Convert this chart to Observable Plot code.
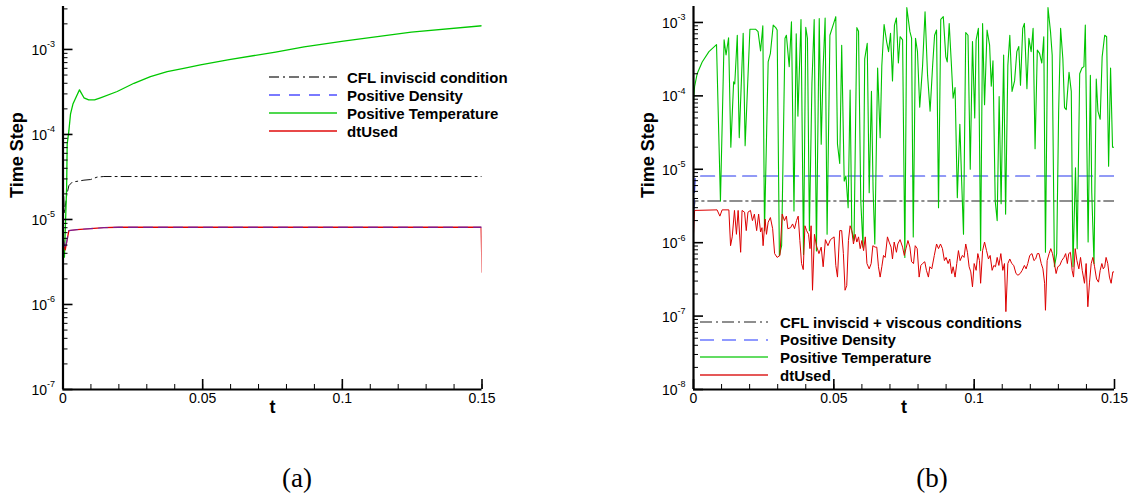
<!DOCTYPE html>
<html><head><meta charset="utf-8">
<script src="https://cdn.jsdelivr.net/npm/d3@7"></script>
<script src="https://cdn.jsdelivr.net/npm/@observablehq/plot@0.6"></script>
<style>
body{margin:0;background:#fff;}
#wrap{position:relative;width:1129px;height:496px;overflow:hidden;background:#fff;font-family:"Liberation Sans",Arial,sans-serif;}
.panel{position:absolute;top:0;}
.lrow{position:absolute;height:20px;display:flex;align-items:center;white-space:nowrap;font-weight:bold;font-size:15px;color:#000;}
.caption{position:absolute;font-family:"Liberation Serif","DejaVu Serif",serif;font-size:27px;transform:translate(-50%,-50%);}
</style></head><body><div id="wrap"></div>
<script>
// ---------- data: panel (a) ----------
const tempA = [[0,5.0e-6],[0.0005,3.6e-6],[0.0013,2.4e-5],[0.0015,7.7e-5],[0.0021,1.1e-4],[0.0027,1.75e-4],[0.0036,2.3e-4],[0.0059,3.35e-4],[0.0075,2.7e-4],[0.0092,2.55e-4],[0.0113,2.55e-4],[0.0134,2.7e-4],[0.0194,3.2e-4],[0.0254,4.0e-4],[0.0313,4.8e-4],[0.0373,5.5e-4],[0.0432,6.0e-4],[0.0492,6.6e-4],[0.0595,7.6e-4],[0.0761,9.3e-4],[0.0863,1.07e-3],[0.1004,1.25e-3],[0.1247,1.6e-3],[0.15,1.9e-3]];
const cflA = [[0,3.2e-5],[0.0005,1.17e-5],[0.0013,1.9e-5],[0.0021,2.5e-5],[0.0033,2.75e-5],[0.0075,2.9e-5],[0.0099,2.95e-5],[0.0122,3.15e-5],[0.0146,3.2e-5],[0.15,3.2e-5]];
const densA = [[0,6.1e-6],[0.0008,4.5e-6],[0.0021,7.4e-6],[0.005,7.6e-6],[0.0099,7.8e-6],[0.0146,8.0e-6],[0.02,8.1e-6],[0.15,8.1e-6]];
const dtA = [[0,6.1e-6],[0.0008,4.4e-6],[0.0021,7.4e-6],[0.005,7.6e-6],[0.0099,7.8e-6],[0.0146,8.0e-6],[0.02,8.1e-6],[0.1497,8.1e-6],[0.15,2.4e-6]];

// ---------- data: panel (b) ----------
const cflB = [[0,2.8e-6],[0.0005,3.7e-6],[0.15,3.7e-6]];
const densB = [[0,2.5e-6],[0.0006,7.7e-6],[0.0012,8.1e-6],[0.15,8.1e-6]];
const tempB = [[0,8.5e-5],[0.0004,1.35e-4],[0.0013,2.0e-4],[0.0031,2.9e-4],[0.0055,4.0e-4],[0.0082,5.0e-4],[0.0096,3.7e-6],[0.0109,5.8e-4],[0.0116,3.6e-4],[0.0125,6.2e-4],[0.0133,2.0e-5],[0.0143,1.55e-4],[0.0147,1.45e-4],[0.0156,6.7e-4],[0.0163,2.7e-5],[0.0177,7.1e-4],[0.0184,2.1e-5],[0.0201,8.1e-4],[0.0221,8.1e-4],[0.0230,7.5e-4],[0.0239,4.1e-4],[0.0247,9.0e-4],[0.0253,1.46e-6],[0.0266,2.9e-4],[0.0274,3.8e-4],[0.0284,9.2e-4],[0.0293,8.5e-4],[0.0298,7.9e-4],[0.0306,6.7e-7],[0.0314,9.1e-7],[0.0326,6.1e-4],[0.0331,6.7e-4],[0.0341,2.5e-4],[0.0349,1.02e-3],[0.0358,2.7e-6],[0.0366,7.0e-4],[0.0372,5.3e-5],[0.0383,1.1e-3],[0.0392,6.9e-7],[0.0400,8.6e-4],[0.0406,6.1e-4],[0.0413,1.46e-6],[0.0422,1.5e-4],[0.0430,1.1e-3],[0.0438,7.7e-7],[0.0448,1.13e-3],[0.0455,2.2e-5],[0.0462,2.5e-4],[0.0469,1.15e-3],[0.0476,1.3e-6],[0.0486,6.7e-4],
[0.0507,1.2e-3],[0.0513,2.2e-5],[0.0521,1.2e-5],[0.0528,4.9e-4],[0.0537,6.9e-6],[0.0543,8.1e-6],[0.0551,3.0e-6],[0.0558,1.2e-4],[0.0564,1.46e-6],[0.0572,1.07e-6],[0.0582,8.5e-4],[0.0588,7.6e-4],[0.0596,3.7e-6],[0.0604,8.7e-7],[0.0610,3.2e-4],[0.0619,5.2e-4],[0.0626,4.8e-6],[0.0634,1.15e-4],[0.0640,5.1e-6],[0.0646,9.6e-7],[0.0656,2.4e-4],[0.0665,2.7e-5],[0.0671,2.6e-4],[0.0679,9.4e-4],[0.0688,5.5e-4],[0.0695,4.0e-4],[0.0702,7.1e-4],[0.0709,1.6e-4],[0.0716,9.2e-4],[0.0723,1.15e-3],[0.0730,2.8e-4],[0.0736,6.4e-4],[0.0745,5.8e-4],[0.0753,6.3e-7],[0.0760,1.6e-3],[0.0771,7.5e-4],[0.0777,6.1e-4],[0.0783,1.2e-6],[0.0791,6.1e-4],[0.0798,4.0e-4],[0.0806,7.0e-5],[0.0816,2.5e-4],[0.0825,1.4e-3],[0.0834,1.9e-4],[0.0843,6.2e-5],[0.0852,2.6e-4],[0.0859,6.7e-4],[0.0866,7.9e-4],[0.0873,3.0e-6],[0.0881,1.1e-3],[0.0890,1.2e-3],[0.0899,3.4e-4],[0.0904,2.9e-4],[0.0911,9.7e-4],[0.0918,3.1e-4],[0.0925,9.3e-5],[0.0932,1.3e-4],[0.0940,4.1e-6],[0.0949,4.1e-5],[0.0955,7.7e-6],[0.0962,1.3e-6],[0.0970,7.3e-4],[0.0978,6.7e-4],[0.0986,1.0e-5],[0.0994,5.5e-4],[0.1002,5.0e-5],
[0.1007,5.8e-4],[0.1015,8.3e-4],[0.1023,7.8e-7],[0.1030,9.7e-4],[0.1037,7.6e-5],[0.1046,7.9e-4],[0.1055,4.9e-4],[0.1061,1.35e-4],[0.1067,3.0e-4],[0.1075,3.7e-6],[0.1082,2.0e-6],[0.1089,9.8e-5],[0.1096,3.4e-6],[0.1105,3.6e-4],[0.1112,2.45e-6],[0.1120,2.6e-4],[0.1127,6.7e-4],[0.1135,1.15e-4],[0.1144,1.6e-4],[0.1152,4.0e-4],[0.1159,4.7e-4],[0.1165,1.4e-4],[0.1173,8.3e-4],[0.1179,9.7e-4],[0.1188,1.25e-4],[0.1195,6.1e-4],[0.1203,4.0e-4],[0.1210,8.3e-4],[0.1217,1.9e-5],[0.1225,4.2e-4],[0.1233,3.8e-4],[0.1241,2.8e-4],[0.1248,6.4e-4],[0.1254,7.4e-7],[0.1263,1.6e-3],[0.1272,7.5e-4],[0.1278,3.6e-4],[0.1286,4.7e-7],[0.1294,7.1e-7],[0.1301,6.2e-5],[0.1308,8.3e-4],[0.1316,3.2e-4],[0.1322,6.9e-5],[0.1328,6.5e-5],[0.1338,2.1e-4],[0.1346,1.15e-4],[0.1352,4.7e-7],[0.1361,1.05e-5],[0.1367,8.3e-7],[0.1376,2.0e-4],[0.1384,2.4e-4],[0.1391,2.5e-4],[0.1396,9.2e-4],[0.1406,1.02e-6],[0.1414,1.9e-4],[0.1419,4.8e-6],[0.1427,5.2e-7],[0.1435,1.7e-4],[0.1441,6.2e-5],[0.1449,4.8e-5],[0.1456,3.4e-4],[0.1465,6.7e-4],[0.1472,6.4e-4],[0.1479,1.1e-5],[0.1486,2.4e-4],[0.1493,2.0e-5],[0.15,2.0e-5]];
const dtB = [[0,1.3e-6],[0.0004,2.75e-6],[0.0084,2.8e-6],[0.0094,2.3e-6],[0.0102,2.8e-6],[0.0126,2.8e-6],[0.0132,9.1e-7],[0.0138,1.2e-6],[0.0146,2.75e-6],[0.0153,1.3e-6],[0.0159,2.75e-6],[0.0168,7.4e-7],[0.0173,2.75e-6],[0.0182,2.6e-6],[0.0188,1.46e-6],[0.0194,2.6e-6],[0.0203,2.75e-6],[0.0210,2.0e-6],[0.0217,2.45e-6],[0.0225,1.46e-6],[0.0232,2.45e-6],[0.0239,1.4e-6],[0.0244,1.6e-6],[0.0248,9.1e-7],[0.0255,2.1e-6],[0.0260,1.3e-6],[0.0266,1.9e-6],[0.0274,2.2e-6],[0.0282,1.55e-6],[0.0289,7.1e-7],[0.0298,6.3e-7],[0.0308,6.7e-7],[0.0316,2.45e-6],[0.0324,2.0e-6],[0.0331,2.3e-6],[0.0336,1.55e-6],[0.0346,1.6e-6],[0.0353,1.8e-6],[0.0360,1.55e-6],[0.0367,2.0e-6],[0.0373,2.3e-6],[0.0379,1.07e-6],[0.0385,5.2e-7],[0.0391,4.3e-7],[0.0397,1.7e-6],[0.0403,1.46e-6],[0.0410,1.3e-6],[0.0415,8.3e-7],[0.0419,1.7e-6],[0.0424,2.25e-7],[0.0431,1.3e-6],[0.0438,9.1e-7],[0.0447,7.1e-7],[0.0455,8.7e-7],[0.0462,4.7e-7],[0.0470,1.1e-6],[0.0479,9.1e-7],[0.0488,1.1e-6],
[0.0501,1.2e-6],[0.0507,4.9e-7],[0.0513,3.4e-7],[0.0521,1.46e-6],[0.0528,1.46e-6],[0.0534,7.1e-7],[0.0540,2.25e-7],[0.0546,2.6e-7],[0.0552,1.07e-6],[0.0558,1.7e-6],[0.0564,1.46e-6],[0.0570,9.6e-7],[0.0576,1.3e-6],[0.0582,1.02e-6],[0.0588,1.2e-6],[0.0594,8.3e-7],[0.0600,1.07e-6],[0.0606,7.8e-7],[0.0612,1.2e-6],[0.0618,5.2e-7],[0.0626,4.4e-7],[0.0633,5.2e-7],[0.0639,9.1e-7],[0.0647,8.7e-7],[0.0653,8.7e-7],[0.0659,4.7e-7],[0.0665,3.4e-7],[0.0671,4.7e-7],[0.0677,6.7e-7],[0.0683,6.3e-7],[0.0691,1.2e-6],[0.0697,1.02e-6],[0.0704,8.7e-7],[0.0709,6.0e-7],[0.0715,1.02e-6],[0.0723,7.4e-7],[0.0728,9.6e-7],[0.0736,1.1e-6],[0.0745,8.7e-7],[0.0751,6.7e-7],[0.0757,8.3e-7],[0.0764,1.07e-6],[0.0771,8.7e-7],[0.0777,5.5e-7],[0.0784,5.2e-7],[0.0790,9.1e-7],[0.0797,8.3e-7],[0.0804,3.4e-7],[0.0810,4.9e-7],[0.0816,5.2e-7],[0.0824,5.5e-7],[0.0830,4.2e-7],[0.0837,3.4e-7],[0.0842,4.7e-7],[0.0849,4.4e-7],[0.0858,6.7e-7],[0.0866,9.6e-7],[0.0873,8.3e-7],[0.0880,9.6e-7],[0.0887,8.3e-7],[0.0894,5.7e-7],[0.0900,6.3e-7],[0.0907,5.2e-7],[0.0913,6.0e-7],[0.0920,3.8e-7],[0.0925,4.7e-7],[0.0932,3.4e-7],[0.0938,5.2e-7],[0.0944,7.8e-7],[0.0950,5.7e-7],[0.0958,6.7e-7],[0.0964,6.3e-7],[0.0970,9.6e-7],[0.0976,7.4e-7],[0.0982,4.7e-7],[0.0988,4.0e-7],[0.0994,2.5e-7],[0.1000,5.2e-7],
[0.1007,4.2e-7],[0.1013,7.1e-7],[0.1019,5.7e-7],[0.1023,2.8e-7],[0.1030,7.8e-7],[0.1037,1.02e-6],[0.1044,7.8e-7],[0.1051,6.0e-7],[0.1057,6.7e-7],[0.1064,4.2e-7],[0.1070,4.9e-7],[0.1076,4.7e-7],[0.1082,6.3e-7],[0.1088,4.9e-7],[0.1095,7.1e-7],[0.1102,4.2e-7],[0.1108,5.2e-7],[0.1113,1.15e-7],[0.1120,5.2e-7],[0.1127,6.0e-7],[0.1134,5.2e-7],[0.1141,4.9e-7],[0.1149,3.8e-7],[0.1156,3.6e-7],[0.1164,3.8e-7],[0.1171,4.2e-7],[0.1179,4.9e-7],[0.1185,4.4e-7],[0.1191,5.2e-7],[0.1198,6.7e-7],[0.1206,7.1e-7],[0.1213,5.7e-7],[0.1219,6.0e-7],[0.1225,7.1e-7],[0.1231,7.1e-7],[0.1239,5.2e-7],[0.1245,4.4e-7],[0.1251,2.8e-7],[0.1254,1.2e-7],[0.1260,5.7e-7],[0.1267,7.1e-7],[0.1273,8.3e-7],[0.1279,7.1e-7],[0.1286,5.2e-7],[0.1292,3.8e-7],[0.1298,4.7e-7],[0.1305,4.9e-7],[0.1312,5.7e-7],[0.1320,6.3e-7],[0.1326,7.1e-7],[0.1332,5.2e-7],[0.1337,7.1e-7],[0.1343,7.4e-7],[0.1349,4.2e-7],[0.1354,3.4e-7],[0.1360,8.3e-7],[0.1366,5.7e-7],[0.1373,4.4e-7],[0.1379,6.3e-7],[0.1385,4.2e-7],[0.1393,2.8e-7],[0.1399,5.2e-7],[0.1405,1.34e-7],[0.1411,2.9e-7],[0.1417,5.2e-7],[0.1423,6.3e-7],[0.1429,4.7e-7],[0.1436,3.2e-7],[0.1443,2.9e-7],[0.1449,4.2e-7],[0.1455,5.2e-7],[0.1460,4.4e-7],[0.1465,4.7e-7],[0.1470,6.3e-7],[0.1476,5.2e-7],[0.1482,3.4e-7],[0.1488,2.8e-7],[0.1494,4.0e-7],[0.15,4.0e-7]];

// ---------- ticks & labels ----------
const xTicks = [0, 0.05, 0.1, 0.15];
const xTickLabels = ["0", "0.05", "0.1", "0.15"];
const yTicksA = [1e-7, 1e-6, 1e-5, 1e-4, 1e-3];
const yExpA = ["-7", "-6", "-5", "-4", "-3"];
const yTicksB = [1e-8, 1e-7, 1e-6, 1e-5, 1e-4, 1e-3];
const yExpB = ["-8", "-7", "-6", "-5", "-4", "-3"];
const legendA = ["CFL inviscid condition", "Positive Density", "Positive Temperature", "dtUsed"];
const legendB = ["CFL inviscid + viscous conditions", "Positive Density", "Positive Temperature", "dtUsed"];
const captions = ["(a)", "(b)"];

const H = 420, MT = 6, MB = 31;
const FONT = "Liberation Sans, Arial, sans-serif";

function panel(cfg) {
  const fw = cfg.width - cfg.ml - cfg.mr, fh = H - MT - MB;
  const allY = d3.scaleLog().domain(cfg.yDomain).ticks();
  const minorY = allY.filter(v => !cfg.yTicks.some(t => Math.abs(t - v) / t < 1e-9));
  const minorX = d3.ticks(0, 0.15, 15);
  const line = (data, o) => Plot.line(data, {x: d => d[0], y: d => d[1], clip: true, strokeLinejoin: "round", ...o});
  return Plot.plot({
    width: cfg.width, height: H,
    marginLeft: cfg.ml, marginRight: cfg.mr, marginTop: MT, marginBottom: MB,
    x: {domain: [0, 0.15], axis: null},
    y: {type: "log", domain: cfg.yDomain, axis: null},
    style: {background: "transparent", fontFamily: FONT, color: "black"},
    marks: [
      ...cfg.lines.map(([data, o]) => line(data, o)),
      Plot.tickY(minorY, {y: d => d, insetRight: fw - 5, stroke: "black", strokeWidth: 1}),
      Plot.tickY(cfg.yTicks, {y: d => d, insetRight: fw - 10, stroke: "black", strokeWidth: 1.6}),
      Plot.tickX(minorX, {x: d => d, insetTop: fh - 5, stroke: "black", strokeWidth: 1}),
      Plot.tickX(xTicks, {x: d => d, insetTop: fh - 10, stroke: "black", strokeWidth: 1.6}),
      Plot.ruleX([0], {stroke: "black", strokeWidth: 2.2}),
      Plot.ruleY([cfg.yDomain[0]], {stroke: "black", strokeWidth: 2.2}),
      Plot.text(cfg.yTicks, {y: d => d, text: () => "10", frameAnchor: "left", textAnchor: "end", dx: -16, dy: 1, fontSize: 14, fill: "black"}),
      Plot.text(cfg.yTicks, {y: d => d, text: (d, i) => cfg.yExp[i], frameAnchor: "left", textAnchor: "end", dx: -8, dy: -5, fontSize: 9, fill: "black"}),
      Plot.text(xTicks, {x: d => d, text: (d, i) => xTickLabels[i], frameAnchor: "bottom", lineAnchor: "top", dy: 4, fontSize: 14, fill: "black"}),
      Plot.text(["Time Step"], {frameAnchor: "left", rotate: -90, dx: cfg.ylabDx, fontSize: 18, fontWeight: "bold", fill: "black"}),
      Plot.text(["t"], {frameAnchor: "bottom", dy: 23, fontSize: 18, fontWeight: "bold", fill: "black"})
    ]
  });
}

const wrap = document.getElementById("wrap");

const plotA = panel({
  width: 564, ml: 62.5, mr: 82.5, yDomain: [1e-7, 3.2e-3], yTicks: yTicksA, yExp: yExpA, ylabDx: -46,
  lines: [
    [cflA, {stroke: "#111", strokeWidth: 1, strokeDasharray: "10,4,2,4"}],
    [tempA, {stroke: "#00c800", strokeWidth: 1.3}],
    [dtA, {stroke: "#e00000", strokeWidth: 1.3}],
    [densA, {stroke: "#3030ff", strokeWidth: 1.3, strokeDasharray: "9,6", strokeOpacity: 0.55}]
  ]
});
plotA.classList.add("panel"); plotA.style.left = "0px";
wrap.appendChild(plotA);

const plotB = panel({
  width: 565, ml: 129, mr: 15, yDomain: [1e-8, 1.65e-3], yTicks: yTicksB, yExp: yExpB, ylabDx: -45,
  lines: [
    [cflB, {stroke: "#6a6a6a", strokeWidth: 1.6, strokeDasharray: "12,4,2,4"}],
    [densB, {stroke: "#2536ee", strokeWidth: 1.2, strokeDasharray: "14,7"}],
    [tempB, {stroke: "#00c400", strokeWidth: 1.1}],
    [dtB, {stroke: "#dd0000", strokeWidth: 1}]
  ]
});
plotB.classList.add("panel"); plotB.style.left = "564px";
wrap.appendChild(plotB);

// ---------- legends ----------
function legend(names, styles, x0, len, gap, rows) {
  names.forEach((name, i) => {
    const row = document.createElement("div");
    row.className = "lrow";
    row.style.left = x0 + "px";
    row.style.top = (rows[i] - 10) + "px";
    const s = styles[i];
    row.innerHTML = `<svg width="${len}" height="20" style="display:block"><line x1="0" x2="${len}" y1="10" y2="10" stroke="${s.c}" stroke-width="${s.w}" ${s.d ? `stroke-dasharray="${s.d}"` : ""}/></svg><span style="margin-left:${gap}px">${name}</span>`;
    wrap.appendChild(row);
  });
}
legend(legendA, [
  {c: "#444", w: 1.4, d: "10,4,2,4"},
  {c: "#7a7aff", w: 1.8, d: "11,9"},
  {c: "#4fd84f", w: 1.8},
  {c: "#e84848", w: 1.8}
], 269, 68, 10, [77, 95, 113, 131]);
legend(legendB, [
  {c: "#6a6a6a", w: 1.6, d: "12,4,2,4"},
  {c: "#6b78ff", w: 1.6, d: "14,8"},
  {c: "#2fd02f", w: 1.3},
  {c: "#dd2020", w: 1.3}
], 700, 68, 12, [322, 339.5, 357, 375]);

// ---------- captions ----------
[[297, 478], [932, 478]].forEach(([x, y], i) => {
  const c = document.createElement("div");
  c.className = "caption";
  c.style.left = x + "px"; c.style.top = y + "px";
  c.textContent = captions[i];
  wrap.appendChild(c);
});
</script></body></html>
